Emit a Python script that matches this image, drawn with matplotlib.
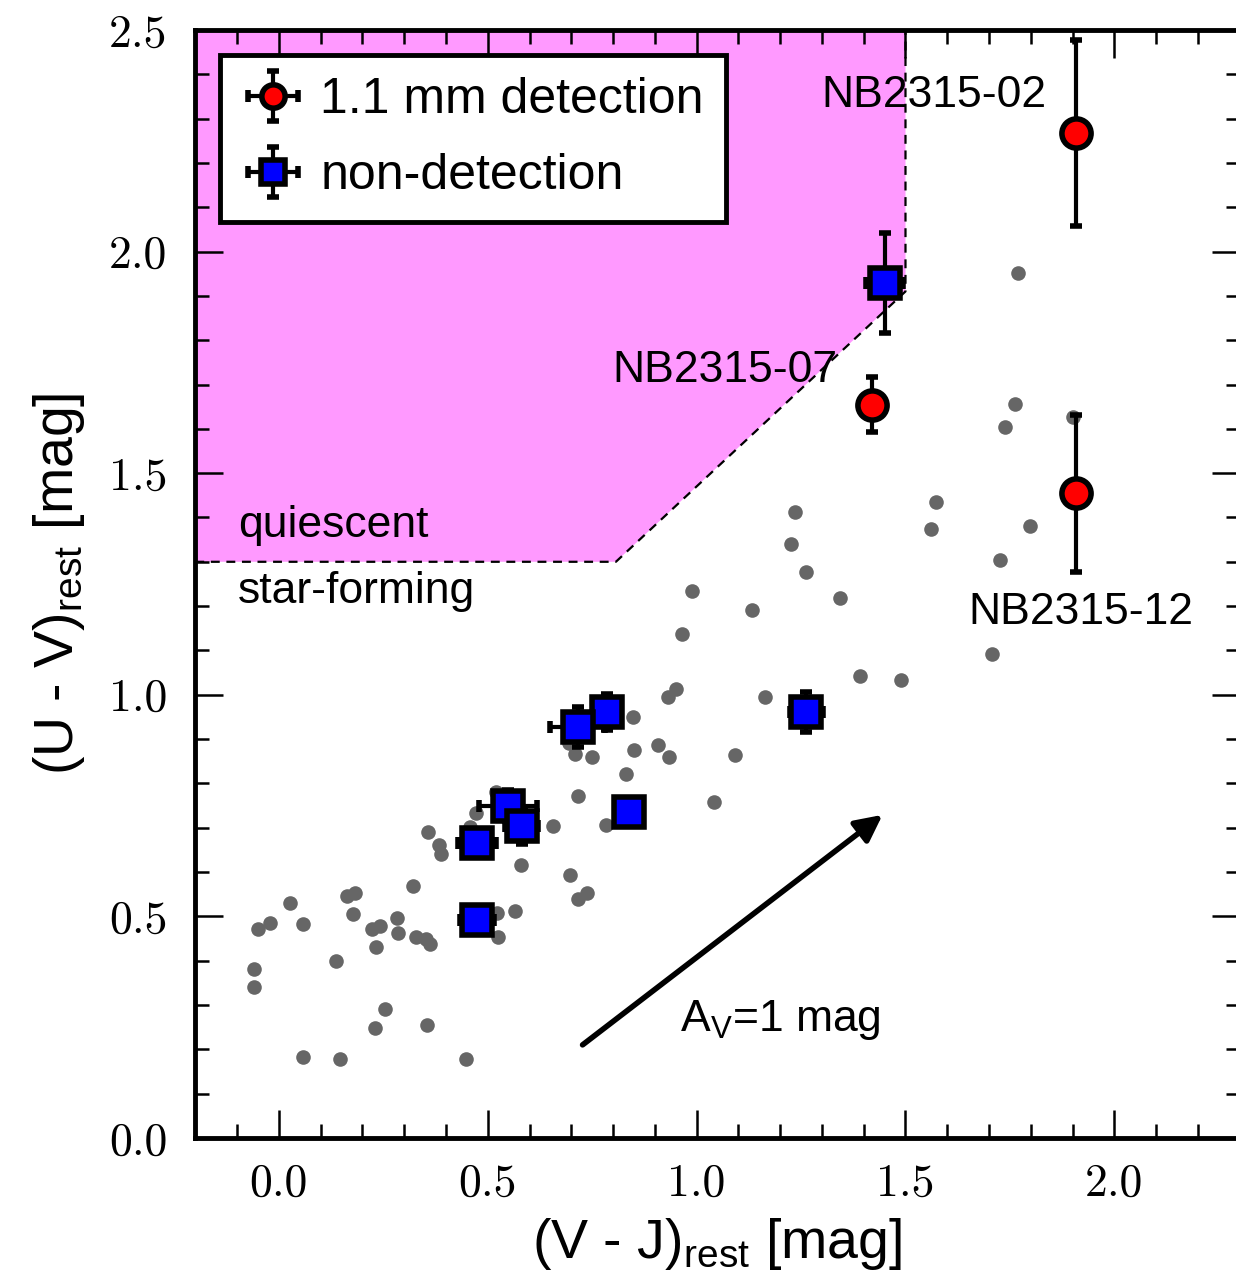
import numpy as np
import matplotlib
matplotlib.use('Agg')
import matplotlib.pyplot as plt

# rest-frame colours of the full sample (grey dots)
vj_all = [0.356, 0.383, 0.389, 0.457, 0.579, 0.320, 0.163, 0.183, 0.026, 0.178,
          -0.022, -0.049, 0.058, 0.283, 0.222, 0.242, 0.285, 0.328, 0.352, 0.362,
          0.233, 0.522, 0.565, 0.524, 0.136, -0.059, -0.060, 0.254, 0.230, 0.355,
          0.057, 0.147, 0.447, 0.696, 0.716, 0.737, 1.263, 0.990, 1.133, 1.344,
          0.964, 0.950, 0.932, 1.163, 0.848, 0.708, 0.749, 0.849, 0.908, 0.933,
          1.093, 0.830, 0.716, 1.041, 0.656, 0.782, 0.471, 0.519, 0.694, 1.769,
          1.761, 1.737, 1.573, 1.561, 1.799, 1.235, 1.227, 1.727, 1.708, 1.392,
          1.490, 1.900]
uv_all = [0.690, 0.661, 0.641, 0.702, 0.616, 0.569, 0.546, 0.553, 0.530, 0.505,
          0.484, 0.472, 0.483, 0.496, 0.472, 0.478, 0.462, 0.453, 0.449, 0.437,
          0.430, 0.508, 0.512, 0.454, 0.399, 0.381, 0.341, 0.292, 0.247, 0.255,
          0.182, 0.179, 0.179, 0.593, 0.539, 0.552, 1.276, 1.235, 1.191, 1.218,
          1.137, 1.013, 0.994, 0.995, 0.950, 0.866, 0.860, 0.875, 0.886, 0.859,
          0.863, 0.821, 0.772, 0.757, 0.703, 0.706, 0.734, 0.781, 0.891, 1.951,
          1.656, 1.604, 1.436, 1.374, 1.381, 1.413, 1.340, 1.303, 1.091, 1.042,
          1.033, 1.627]

# 1.1 mm detections
vj_det = [1.907, 1.419, 1.907]
uv_det = [2.268, 1.654, 1.455]
uv_det_err = [0.21, 0.062, 0.177]
vj_det_err = [0.0, 0.0, 0.0]
det_names = ['NB2315-02', 'NB2315-07', 'NB2315-12']

# non-detections
vj_non = [1.450, 0.785, 0.715, 1.263, 0.548, 0.581, 0.837, 0.474, 0.474]
uv_non = [1.929, 0.961, 0.927, 0.961, 0.749, 0.704, 0.736, 0.666, 0.492]
vj_non_err = [0.045, 0.03, 0.065, 0.04, 0.07, 0.04, 0.02, 0.045, 0.04]
uv_non_err = [0.113, 0.04, 0.045, 0.045, 0.035, 0.04, 0.02, 0.03, 0.03]

# UVJ quiescent selection (slope, intercept, U-V floor, V-J ceiling)
uvj_slope, uvj_icept, uvj_floor, uvj_vjmax = 0.88, 0.59, 1.3, 1.5

# dust vector for A_V = 1 mag
av_start = (0.727, 0.210)
av_end = (1.445, 0.729)

XMIN, XMAX, YMIN, YMAX = -0.2, 2.3, 0.0, 2.5

sans = ['Liberation Sans', 'DejaVu Sans']

fig = plt.figure(figsize=(12.36, 12.75), dpi=100)
ax = fig.add_axes([0.158, 0.1075, 0.845, 0.8690])

# quiescent box
x_knee = (uvj_floor - uvj_icept) / uvj_slope
y_top = uvj_slope * uvj_vjmax + uvj_icept
box_x = [XMIN, x_knee, uvj_vjmax, uvj_vjmax]
box_y = [uvj_floor, uvj_floor, y_top, YMAX]
ax.fill(box_x + [XMIN], box_y + [YMAX], color='#ff99ff', lw=0, zorder=0)
ax.plot(box_x, box_y, color='k', ls=(0, (4, 3)), lw=1.6, zorder=1)

ax.plot(vj_all, uv_all, 'o', color='#666666', ms=10.5, mew=0, zorder=2)

ax.errorbar(vj_non, uv_non, xerr=vj_non_err, yerr=uv_non_err, fmt='s',
            mfc='blue', mec='k', mew=4, ms=21, ecolor='k', elinewidth=3,
            capsize=4.5, capthick=4, zorder=3, label='non-detection')
ax.errorbar(vj_det, uv_det, xerr=vj_det_err, yerr=uv_det_err, fmt='o',
            mfc='red', mec='k', mew=4, ms=21, ecolor='k', elinewidth=3,
            capsize=4.5, capthick=4, zorder=4, label='1.1 mm detection')

# labels for the detections
ax.text(1.569, 2.353, det_names[0], fontsize=32, family=sans, ha='center', va='center', zorder=5)
ax.text(1.067, 1.731, det_names[1], fontsize=32, family=sans, ha='center', va='center', zorder=5)
ax.text(1.919, 1.185, det_names[2], fontsize=32, family=sans, ha='center', va='center', zorder=5)
ax.text(-0.098, 1.381, 'quiescent', fontsize=32, family=sans, va='center')
ax.text(-0.098, 1.232, 'star-forming', fontsize=32, family=sans, va='center')

ax.annotate('', xy=av_end, xytext=av_start,
            arrowprops=dict(arrowstyle='-|>', color='k', lw=4, mutation_scale=40,
                            shrinkA=0, shrinkB=0))
ax.text(1.201, 0.266, r'A$_\mathregular{V}$=1 mag', fontsize=32, family=sans,
        ha='center', va='center')

ax.set_xlim(XMIN, XMAX)
ax.set_ylim(YMIN, YMAX)
ax.set_xticks(np.arange(0, 2.01, 0.5))
ax.set_yticks(np.arange(0, 2.51, 0.5))
ax.set_xticks(np.arange(-0.1, 2.31, 0.1), minor=True)
ax.set_yticks(np.arange(0, 2.51, 0.1), minor=True)
ax.set_xticklabels(['%.1f' % v for v in np.arange(0, 2.01, 0.5)])
ax.set_yticklabels(['%.1f' % v for v in np.arange(0, 2.51, 0.5)])
ax.tick_params(which='both', direction='in', top=True, right=True, width=1.8)
ax.tick_params(which='major', length=20, labelsize=33)
ax.tick_params(axis='x', which='major', pad=18)
ax.tick_params(axis='y', which='major', pad=20)
ax.tick_params(which='minor', length=10)
for lab in ax.get_xticklabels() + ax.get_yticklabels():
    lab.set_fontfamily('cmr10')
for sp in ax.spines.values():
    sp.set_linewidth(3.5)

ax.set_xlabel(r'(V - J)$_\mathregular{rest}$ [mag]', fontsize=40, family=sans, labelpad=8)
ax.set_ylabel(r'(U - V)$_\mathregular{rest}$ [mag]', fontsize=40, family=sans, labelpad=16)

handles, labels = ax.get_legend_handles_labels()
leg = ax.legend(handles[::-1], labels[::-1], loc='upper left',
                prop={'family': sans, 'size': 36}, fancybox=False, framealpha=1,
                edgecolor='k', borderaxespad=0.5, handlelength=1.2,
                handletextpad=0.35, markerscale=0.8, borderpad=0.45,
                labelspacing=0.6)
leg.get_frame().set_linewidth(3.5)
leg.set_zorder(10)

fig.savefig('out.png', dpi=100)
